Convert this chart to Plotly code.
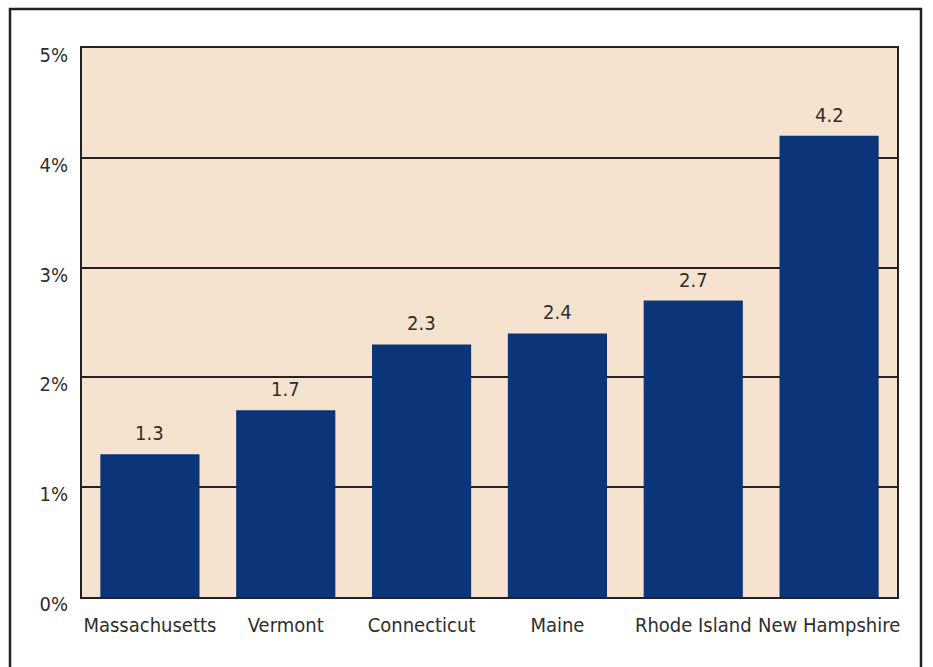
import plotly.graph_objects as go

# Data
states = ["Massachusetts", "Vermont", "Connecticut", "Maine", "Rhode Island", "New Hampshire"]
values = [1.3, 1.7, 2.3, 2.4, 2.7, 4.2]
y_ticks = [0, 1, 2, 3, 4, 5]
y_tick_labels = ["0%", "1%", "2%", "3%", "4%", "5%"]

FONT = "DejaVu Sans Condensed, Liberation Sans Narrow, sans-serif"
TEXT = "#2e2e2e"
LINE = "#222222"

W, H = 933, 667
L, R, T, B = 82, 36, 48, 70
pw, ph = W - L - R, H - T - B

fig = go.Figure()
fig.add_trace(go.Bar(
    x=states, y=values,
    marker=dict(color="#0B3479", line=dict(width=0)),
    width=0.73,
    hoverinfo="x+y",
))

# value labels above bars
for s, v in zip(states, values):
    fig.add_annotation(x=s, y=v, text=f"{v:.1f}", showarrow=False,
                       yanchor="bottom", yshift=7,
                       font=dict(family=FONT, size=20, color=TEXT))

# outer frame around the whole figure
def px_x(p):
    return (p - L) / pw

def px_y(p):
    return (H - B - p) / ph

fig.add_shape(type="rect", xref="paper", yref="paper",
              x0=px_x(10), x1=px_x(921), y0=px_y(720), y1=px_y(9),
              line=dict(color=LINE, width=2.5), layer="above")

fig.update_layout(
    width=W, height=H,
    margin=dict(l=L, r=R, t=T, b=B),
    paper_bgcolor="white",
    plot_bgcolor="#F5E3CF",
    showlegend=False,
    font=dict(family=FONT, size=20, color=TEXT),
    bargap=0.27,
    xaxis=dict(
        showline=True, mirror=True, linecolor=LINE, linewidth=2,
        showgrid=False, ticks="", ticklabelstandoff=9,
        tickfont=dict(family=FONT, size=20, color=TEXT),
        fixedrange=True,
    ),
    yaxis=dict(
        range=[0, 5], tickvals=y_ticks, ticktext=y_tick_labels,
        showline=True, mirror=True, linecolor=LINE, linewidth=2,
        showgrid=True, gridcolor=LINE, gridwidth=1.5,
        zeroline=False, ticks="", ticklabelstandoff=8, ticklabelshift=7,
        tickfont=dict(family=FONT, size=20, color=TEXT),
        fixedrange=True,
    ),
)

fig.write_html("out.html")
